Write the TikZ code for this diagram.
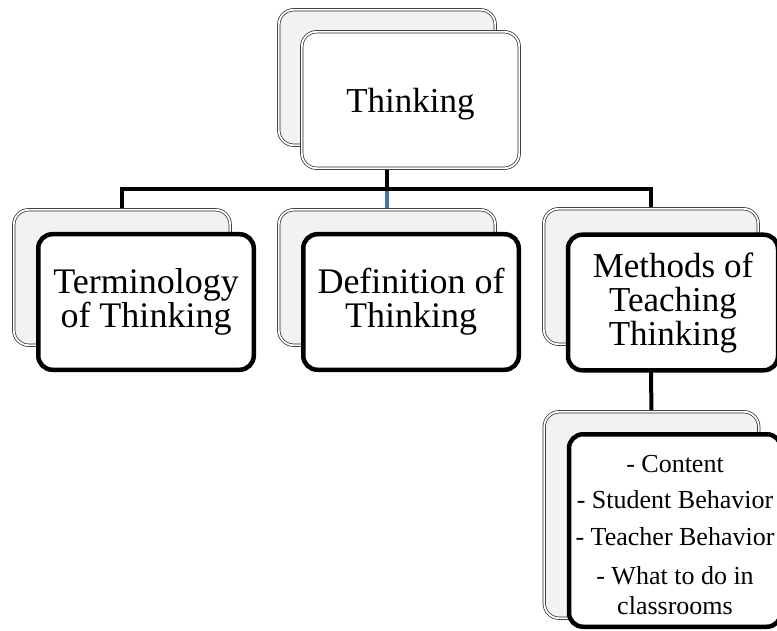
\documentclass[tikz,border=0pt]{standalone}
\usepackage{fontspec}
\setmainfont{Liberation Serif}
\usetikzlibrary{positioning, backgrounds}
\definecolor{backgray}{RGB}{242,242,242}
\definecolor{linkblue}{RGB}{70,115,170}

\begin{document}
\begin{tikzpicture}[x=1pt, y=-1pt,
    backbox/.style={draw=black!85, line width=0.7pt, double=white, double distance=1.8pt,
        fill=backgray, rounded corners=15pt, inner sep=0pt,
        minimum width=216.5pt, minimum height=135.5pt},
    topbox/.style={backbox, fill=white, minimum width=217.5pt, minimum height=136.5pt,
        text depth=0pt, font=\fontsize{35}{33}\selectfont},
    childbox/.style={draw=black, line width=4.5pt, fill=white, rounded corners=14pt,
        inner sep=0pt, align=center, minimum width=215.5pt, minimum height=135.5pt,
        font=\fontsize{35}{34}\selectfont},
    link/.style={line width=4pt, black}]
    \path[use as bounding box, clip] (0,0) rectangle (777,631);
    \coordinate (bus) at (387,189);
    \node[backbox] (thinkback) at (387,77.5) {};
    \node[topbox] (thinking) at (410.5,100) {Thinking};
    \node[backbox] (termback) at (122,277.5) {};
    \node[childbox, font=\fontsize{36}{34}\selectfont] (term) at (146,302) {Terminology\\of Thinking};
    \node[backbox] (defback) at (387,277.5) {};
    \node[childbox, font=\fontsize{36}{34}\selectfont] (def) at (411,302) {Definition of\\Thinking};
    \node[backbox, minimum width=214.5pt] (methback) at (651,276.5) {};
    \node[childbox, minimum width=210pt] (meth) at (673,302.5) {Methods of\\Teaching\\Thinking};
    \node[backbox, minimum width=214.5pt, minimum height=206.5pt] (subback) at (651.5,515) {};
    \node[childbox, minimum width=212pt, minimum height=192.5pt,
        font=\fontsize{26}{30}\selectfont] (sub) at (675,530.5)
        {\rule{0pt}{26pt}- Content\\[6pt]- Student Behavior\\[7pt]- Teacher Behavior\\[9pt]- What to do in\\classrooms};
    \begin{scope}[on background layer]
        \draw[link] (thinkback.center) -- (bus);
        \draw[link, linkblue, line width=3.5pt] (bus) -- (defback.center);
        \draw[link] (termback.center) |- (bus) -| (methback.center);
        \draw[link] (methback.center) -- (subback.center);
    \end{scope}
\end{tikzpicture}
\end{document}
